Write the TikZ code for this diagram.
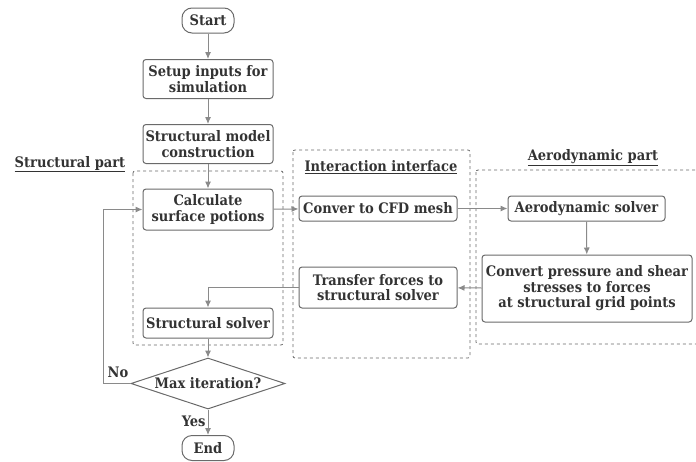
\documentclass[tikz,border=0pt]{standalone}
\usepackage{fontspec}
\setmainfont{DejaVu Serif Condensed}
\usetikzlibrary{arrows.meta,shapes.geometric}
\definecolor{txt}{HTML}{333333}
\definecolor{ln}{HTML}{8A8A8A}
\definecolor{bd}{HTML}{6A6A6A}
\tikzset{
  x=1pt,y=-1pt,
  every node/.style={font=\fontsize{14.5}{15.5}\selectfont\bfseries, text=txt},
  box/.style={draw=bd, line width=1pt, rounded corners=3pt, align=center, inner sep=1pt},
  term/.style={draw=bd, line width=1pt, rounded corners=10pt, minimum width=52pt, minimum height=25pt, inner sep=0pt},
  dec/.style={draw=bd, line width=1pt, diamond, aspect=3, minimum width=154pt, minimum height=51pt, inner sep=0pt},
  group/.style={draw=bd, dashed, line width=0.8pt, rounded corners=2pt},
  conn/.style={draw=ln, line width=1pt, -{Latex[length=7pt,width=6pt]}},
  lbl/.style={font=\fontsize{14.5}{15.5}\selectfont\bfseries},
}
\begin{document}
\begin{tikzpicture}
\useasboundingbox (0,0) rectangle (696,461);
\clip (0,0) rectangle (696,461);
% group frames
\draw[group] (133,171) rectangle (283,345);
\draw[group] (293,150) rectangle (470,358);
\draw[group] (476,170) rectangle (705,344);
\node[lbl] (lstr) at (70,164) {\underline{Structural part}};
\node[lbl] (lint) at (381,167) {\underline{Interaction interface}};
\node[lbl] (laer) at (593,158) {\underline{Aerodynamic part}};
% nodes
\node[term] (start) at (208,20.5) {Start};
\node[box, minimum width=130pt, minimum height=39pt] (setup) at (208,79) {Setup inputs for\\simulation};
\node[box, minimum width=130pt, minimum height=39pt] (model) at (208,144) {Structural model\\construction};
\node[box, minimum width=130pt, minimum height=41pt] (calc) at (208,209.5) {Calculate\\surface potions};
\node[box, minimum width=158pt, minimum height=25pt] (cfd) at (378,208.5) {Conver to CFD mesh};
\node[box, minimum width=157pt, minimum height=25pt] (aero) at (586.5,208.5) {Aerodynamic solver};
\node[box, minimum width=210pt, minimum height=67pt] (conv) at (587,288.5) {Convert pressure and shear\\stresses to forces\\at structural grid points};
\node[box, minimum width=158pt, minimum height=41pt] (trans) at (378,287.5) {Transfer forces to\\structural solver};
\node[box, minimum width=130pt, minimum height=30pt] (ssolv) at (208,323) {Structural solver};
\node[dec] (maxit) at (208,383.5) {Max iteration?};
\node[term] (end) at (208,448) {End};
% connectors
\draw[conn] (start) -- (setup);
\draw[conn] (setup) -- (model);
\draw[conn] (model) -- (calc);
\draw[conn] (calc) -- (cfd);
\draw[conn] (cfd) -- (aero);
\draw[conn] (aero) -- (conv);
\draw[conn] (conv) -- (trans);
\draw[conn] (trans.west) -| (ssolv.north);
\draw[conn] (ssolv) -- (maxit);
\draw[conn] (maxit) -- node[left, pos=0.45, inner sep=2pt] (yes) {Yes} (end);
\coordinate (lp) at (103,383.5);
\draw[conn] (maxit.west) -- (lp) |- (calc.west);
\node (no) at (118,372) {No};
\end{tikzpicture}
\end{document}
